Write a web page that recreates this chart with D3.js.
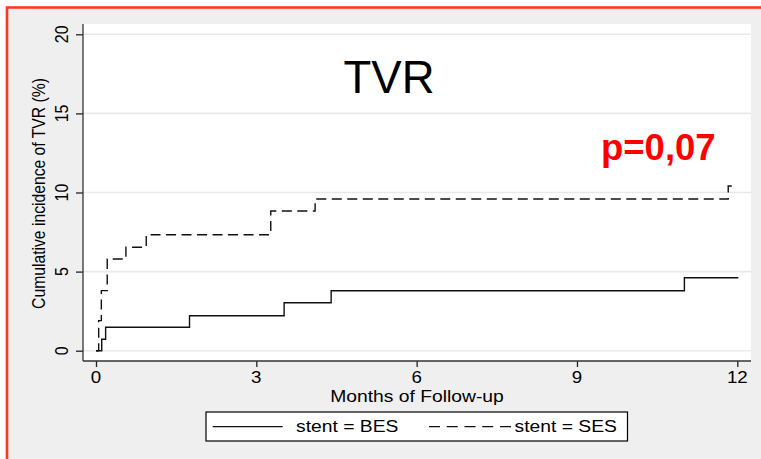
<!DOCTYPE html>
<html>
<head>
<meta charset="utf-8">
<script src="https://cdn.jsdelivr.net/npm/d3@7"></script>
<style>
  html, body { margin: 0; padding: 0; background: #ffffff; }
  svg { display: block; }
  text { font-family: "Liberation Sans", Arial, sans-serif; fill: #000; }
</style>
</head>
<body>
<script>
// Kaplan-Meier style cumulative incidence of TVR by stent type
const monthTicks = [0, 3, 6, 9, 12];
const pctTicks = [0, 5, 10, 15, 20];

const besMonths = [0, 0.107, 0.18, 1.75, 3.52, 4.4, 11.01, 12.02];
const besPct    = [0, 0.72, 1.48, 2.21, 3.03, 3.79, 4.61, 4.61];

const sesMonths = [0, 0.05, 0.1, 0.21, 0.56, 0.94, 3.27, 4.1, 11.83, 11.98];
const sesPct    = [0, 1.9, 3.8, 5.8, 6.54, 7.33, 8.83, 9.59, 10.41, 10.41];

const seriesNames = ["stent = BES", "stent = SES"];
const chartTitle = "TVR";
const pLabel = "p=0,07";
const xTitle = "Months of Follow-up";
const yTitle = "Cumulative incidence of TVR (%)";

const W = 761, H = 459;
const plot = { left: 83, right: 751, top: 24, bottom: 361 };
const SX = 1.17; // widened small type

const svg = d3.select("body").append("svg").attr("width", W).attr("height", H);

const x = d3.scaleLinear().domain([0, 12]).range([96, 737.3]);
const y = d3.scaleLinear().domain([0, 20]).range([350.7, 34.3]);

// panel background
svg.append("rect").attr("x", 7).attr("y", 7.5).attr("width", W + 20).attr("height", H + 20)
  .attr("fill", "#efefef");
svg.append("rect").attr("x", plot.left).attr("y", plot.top)
  .attr("width", plot.right - plot.left).attr("height", plot.bottom - plot.top)
  .attr("fill", "#ffffff");

// horizontal grid
svg.append("g").selectAll("line").data(pctTicks).join("line")
  .attr("x1", plot.left).attr("x2", plot.right)
  .attr("y1", d => y(d)).attr("y2", d => y(d))
  .attr("stroke", "#e9e9e9").attr("stroke-width", 1.6);

function smallText(str, tx, ty, opts = {}) {
  return svg.append("text")
    .attr("transform", `translate(${tx},${ty}) scale(${SX},1)` + (opts.rotate ? " rotate(-90)" : ""))
    .attr("text-anchor", opts.anchor || "middle")
    .attr("font-size", opts.size || 16.5)
    .text(str);
}

// x axis
const xAxis = d3.axisBottom(x).tickValues(monthTicks).tickSize(6).tickSizeOuter(0).tickFormat("");
const gx = svg.append("g").attr("transform", `translate(0,${plot.bottom})`).call(xAxis);
gx.select(".domain").remove();
gx.selectAll(".tick line").attr("stroke", "#222").attr("stroke-width", 1.3);
monthTicks.forEach(m => smallText(String(m), x(m), 383).attr("font-size", 16));

// y axis
const yAxis = d3.axisLeft(y).tickValues(pctTicks).tickSize(7).tickSizeOuter(0).tickFormat("");
const gy = svg.append("g").attr("transform", `translate(${plot.left},0)`).call(yAxis);
gy.select(".domain").remove();
gy.selectAll(".tick line").attr("stroke", "#222").attr("stroke-width", 1.3);
pctTicks.forEach(v => smallText(String(v), 68.3, y(v), { rotate: true, size: 16 }));

// axis lines
svg.append("line").attr("x1", plot.left).attr("x2", plot.right)
  .attr("y1", plot.bottom).attr("y2", plot.bottom)
  .attr("stroke", "#333").attr("stroke-width", 1.3);
svg.append("line").attr("x1", plot.left).attr("x2", plot.left)
  .attr("y1", plot.top).attr("y2", plot.bottom)
  .attr("stroke", "#333").attr("stroke-width", 1.3);

// step curves
const step = d3.line().curve(d3.curveStepAfter).x(d => x(d[0])).y(d => y(d[1]));
const bes = besMonths.map((m, i) => [m, besPct[i]]);
const ses = sesMonths.map((m, i) => [m, sesPct[i]]);

svg.append("path").datum(bes).attr("d", step)
  .attr("fill", "none").attr("stroke", "#111").attr("stroke-width", 1.4);
svg.append("path").datum(ses).attr("d", step)
  .attr("fill", "none").attr("stroke", "#111").attr("stroke-width", 1.4)
  .attr("stroke-dasharray", "10,5.5");

// titles
smallText(xTitle, (plot.left + plot.right) / 2, 401.5);
smallText(yTitle, 45, 193.5, { rotate: true, size: 15.7 });

svg.append("text").attr("x", 389).attr("y", 93.3).attr("text-anchor", "middle")
  .attr("font-size", 45.5).text(chartTitle);
svg.append("text").attr("x", 601).attr("y", 160).attr("text-anchor", "start")
  .attr("font-size", 36.5).attr("font-weight", "bold").style("fill", "#ff0000").text(pLabel);

// legend
const lg = svg.append("g");
lg.append("rect").attr("x", 206).attr("y", 412).attr("width", 421.5).attr("height", 29)
  .attr("fill", "#fff").attr("stroke", "#000").attr("stroke-width", 1.2);
lg.append("line").attr("x1", 212.7).attr("x2", 282.7).attr("y1", 426.7).attr("y2", 426.7)
  .attr("stroke", "#111").attr("stroke-width", 1.3);
lg.append("line").attr("x1", 429).attr("x2", 511).attr("y1", 426.7).attr("y2", 426.7)
  .attr("stroke", "#111").attr("stroke-width", 1.3).attr("stroke-dasharray", "11,6.75");
smallText(seriesNames[0], 296, 432, { anchor: "start" });
smallText(seriesNames[1], 514.5, 432, { anchor: "start" });

// outer frame
svg.append("rect").attr("x", 7).attr("y", 7.5).attr("width", W + 20).attr("height", H + 20)
  .attr("fill", "none").attr("stroke", "#ff3a1c").attr("stroke-width", 2.6);
</script>
</body>
</html>
